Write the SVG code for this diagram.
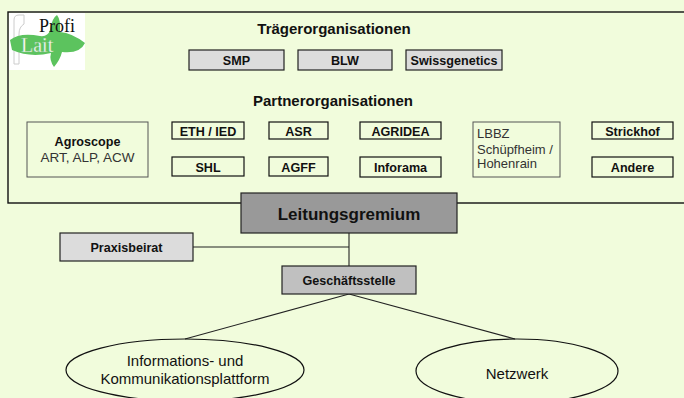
<svg xmlns="http://www.w3.org/2000/svg" width="684" height="398" viewBox="0 0 684 398">
<style>
text{font-family:"Liberation Sans",Arial,sans-serif;fill:#111}
.b{font-weight:bold}
.t{font-size:15px;font-weight:bold;text-anchor:middle}
.s{font-size:12.6px;text-anchor:middle}
.r{font-size:13px;fill:#333}
.e{font-size:15px;text-anchor:middle}
.box{fill:none;stroke:#111;stroke-width:1.2}
.gbox{fill:#dcdcdc;stroke:#222;stroke-width:1.2}
.soft{fill:none;stroke:#555;stroke-width:1}
.con{fill:none;stroke:#222;stroke-width:1.1}
</style>
<rect x="0" y="0" width="684" height="398" fill="#f1fcdc"/>
<g id="frame">
<rect x="8" y="12" width="690" height="191" fill="none" stroke="#111" stroke-width="1.4"/>
</g>
<g id="logo">
<rect x="9" y="13" width="76" height="57" fill="#fff"/>
<path d="M14 20 Q14 15 19 15 L24 15 L24 24 Q19 27 19 34 L19 64 L14 64 Z" fill="none" stroke="#ccc" stroke-width="1"/>
<path d="M10 40 Q20 32 40 36 Q48 37 50 30 Q52 18 57 15 Q61 20 60 32 Q72 33 85 43 Q80 54 62 52 Q60 60 54 67 Q49 60 51 53 Q30 58 12 50 Z" fill="#5cc35e"/>
<text x="39" y="32" style="font-family:'Liberation Serif','Times New Roman',serif;font-size:18px;fill:#111">Profi</text>
<text x="21" y="52" style="font-family:'Liberation Serif','Times New Roman',serif;font-size:20px;fill:#fff;stroke:#7bbf7b;stroke-width:0.4">Lait</text>
</g>
<g id="connectors">
<line class="con" x1="349" y1="233" x2="349" y2="266"/>
<line class="con" x1="193" y1="247" x2="349" y2="247"/>
<line class="con" x1="349" y1="294" x2="185" y2="339"/>
<line class="con" x1="349" y1="294" x2="515" y2="339"/>
</g>
<text class="t" x="334" y="34">Trägerorganisationen</text>
<text class="t" x="333" y="106">Partnerorganisationen</text>
<g id="smp"><rect class="gbox" x="189" y="50" width="95" height="20"/><text class="s b" x="236.5" y="64.5">SMP</text></g>
<g id="blw"><rect class="gbox" x="298" y="50" width="94" height="20"/><text class="s b" x="345" y="64.5">BLW</text></g>
<g id="swissgenetics"><rect class="gbox" x="406" y="50" width="96" height="20"/><text class="s b" x="454" y="64.5">Swissgenetics</text></g>
<g id="agroscope"><rect class="soft" x="27" y="122" width="121" height="55"/><text class="s b" x="87.5" y="146">Agroscope</text><text class="s" x="87.5" y="162" style="font-size:13.5px;fill:#333">ART, ALP, ACW</text></g>
<g id="eth"><rect class="box" x="172" y="122" width="72" height="17"/><text class="s b" x="208" y="135.5">ETH / IED</text></g>
<g id="asr"><rect class="box" x="269" y="122" width="59" height="17"/><text class="s b" x="298.5" y="135.5">ASR</text></g>
<g id="shl"><rect class="box" x="172" y="157" width="72" height="19"/><text class="s b" x="208" y="171.5">SHL</text></g>
<g id="agff"><rect class="box" x="269" y="157" width="59" height="19"/><text class="s b" x="298.5" y="171.5">AGFF</text></g>
<g id="agridea"><rect class="box" x="360" y="122" width="81" height="17"/><text class="s b" x="400.5" y="135.5">AGRIDEA</text></g>
<g id="inforama"><rect class="box" x="360" y="157" width="81" height="20"/><text class="s b" x="400.5" y="172">Inforama</text></g>
<g id="lbbz"><rect class="soft" x="473" y="122" width="87" height="55"/>
<text class="r" x="477" y="138">LBBZ</text>
<text class="r" x="477" y="154">Schüpfheim /</text>
<text class="r" x="477" y="168">Hohenrain</text></g>
<g id="strickhof"><rect class="box" x="592" y="122" width="81" height="17"/><text class="s b" x="632.5" y="135.5">Strickhof</text></g>
<g id="andere"><rect class="box" x="592" y="157" width="81" height="20"/><text class="s b" x="632.5" y="172">Andere</text></g>
<g id="leitungsgremium"><rect x="241" y="193" width="216" height="40" fill="#999" stroke="#222" stroke-width="1.2"/><text x="349" y="219.5" style="font-size:17px;font-weight:bold;text-anchor:middle">Leitungsgremium</text></g>
<g id="praxisbeirat"><rect class="gbox" x="60" y="233" width="133" height="28"/><text class="s b" x="126.5" y="251.5">Praxisbeirat</text></g>
<g id="geschaeftsstelle"><rect x="282" y="266" width="134" height="28" fill="#c0c0c0" stroke="#222" stroke-width="1.2"/><text class="s b" x="349" y="284.5">Geschäftsstelle</text></g>
<g id="plattform"><ellipse cx="185" cy="370" rx="119" ry="31" fill="none" stroke="#111" stroke-width="1.2"/>
<text class="e" x="185" y="366">Informations- und</text>
<text class="e" x="185" y="384">Kommunikationsplattform</text></g>
<g id="netzwerk"><ellipse cx="517" cy="371" rx="101" ry="32" fill="none" stroke="#111" stroke-width="1.2"/>
<text class="e" x="517" y="379">Netzwerk</text></g>
</svg>
